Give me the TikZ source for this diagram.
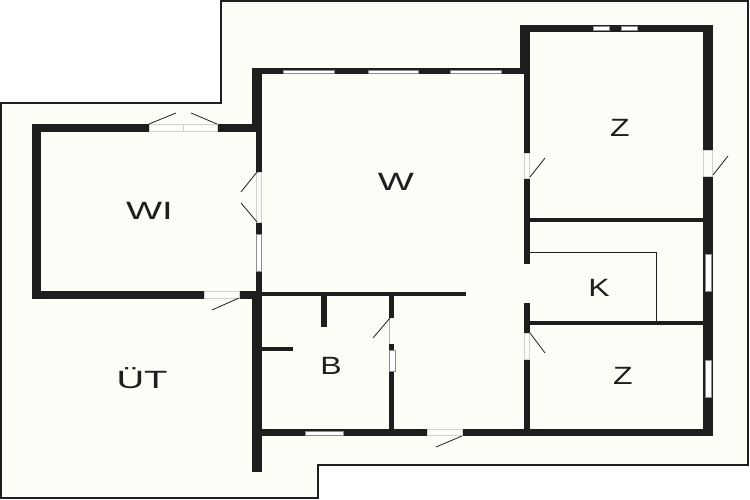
\documentclass[tikz,border=0pt]{standalone}
\usepackage{fontspec}
\newfontfamily\planfont[FakeStretch=1.28]{Liberation Sans}
\newfontfamily\planwidefont[FakeStretch=1.53]{Liberation Sans}
\definecolor{plotfill}{HTML}{FDFDF8}
\definecolor{wallblack}{HTML}{1E1E1E}
\tikzset{
	wall/.style={fill=wallblack, draw=none},
	pane/.style={fill=white, draw=black!45, line width=0.4pt},
	gap/.style={fill=plotfill, draw=black!18, line width=0.5pt},
	leaf/.style={draw=wallblack, line width=0.8pt},
	roomname/.style={font=\planfont\fontsize{25}{25}\selectfont, text=wallblack, inner sep=0pt},
	widename/.style={roomname, font=\planwidefont\fontsize{25}{25}\selectfont}
}

\begin{document}
\begin{tikzpicture}[x=1pt, y=-1pt]
		%%%%% START %%%%%
		\useasboundingbox (0, 0) rectangle (750, 500);
		\fill[white] (0, 0) rectangle (750, 500);
		
		% plot outline
		\draw[fill=plotfill, draw=wallblack, line width=2pt] (1, 103) -- (221, 103) -- (221, 1) -- (748, 1) -- (748, 465) -- (318, 465) -- (318, 498) -- (1, 498) -- cycle;
		
		% WI
		\fill[wall] (32, 124) rectangle (41, 299);
		\fill[wall] (32, 124) rectangle (149, 132);
		\fill[wall] (217, 124) rectangle (262, 132);
		\fill[wall] (32, 291) rectangle (204, 299);
		\fill[wall] (239, 291) rectangle (262, 299);
		\draw[gap] (149, 124.5) rectangle (217, 131.5);
		\draw[gap] (183, 124.5) -- (183, 131.5);
		\draw[gap] (204, 291.5) rectangle (239, 298.5);
		\draw[leaf] (149, 124) -- (176, 113);
		\draw[leaf] (217, 124) -- (191, 113);
		\draw[leaf] (239, 298) -- (212, 310);
		
		% wall between WI and W
		\fill[wall] (252, 68) rectangle (262, 132);
		\fill[wall] (256, 132) rectangle (262, 172);
		\fill[wall] (256, 222) rectangle (262, 234);
		\fill[wall] (256, 271) rectangle (262, 292);
		\fill[wall] (252, 296) rectangle (262, 472);
		\draw[gap] (256.5, 172) rectangle (261.5, 222);
		\draw[pane] (256.5, 234) rectangle (261.5, 271);
		\draw[leaf] (257, 172) -- (241, 192);
		\draw[leaf] (257, 222) -- (241, 203);
		
		% W, top wall
		\fill[wall] (252, 68) rectangle (530, 74.5);
		\draw[pane] (283, 70) rectangle (334, 73);
		\draw[pane] (368, 70) rectangle (418, 73);
		\draw[pane] (450, 70) rectangle (501, 73);
		
		% B
		\fill[wall] (256, 292) rectangle (466, 296);
		\fill[wall] (321, 296) rectangle (327, 327);
		\fill[wall] (262, 347) rectangle (293, 351);
		\fill[wall] (389, 296) rectangle (394, 318);
		\fill[wall] (389, 344) rectangle (394, 350);
		\fill[wall] (389, 371) rectangle (394, 430);
		\draw[black!30, line width=0.5pt] (389, 318) -- (389, 344);
		\draw[pane] (389, 350) rectangle (395, 371);
		\draw[leaf] (390, 318) -- (373, 338);
		
		% bottom wall
		\fill[wall] (262, 429) rectangle (427, 436);
		\fill[wall] (462, 429) rectangle (713, 436);
		\draw[pane] (305, 431) rectangle (343, 435);
		\draw[gap] (427, 429.5) rectangle (462, 435.5);
		\draw[leaf] (462, 436) -- (436, 447);
		
		% wall between W and the rooms on the right
		\fill[wall] (520, 25) rectangle (530, 74.5);
		\fill[wall] (524, 74) rectangle (530, 153);
		\fill[wall] (524, 178) rectangle (530, 264);
		\fill[wall] (524, 303) rectangle (530, 333);
		\fill[wall] (524, 359) rectangle (530, 436);
		\draw[gap] (524.5, 153) rectangle (529.5, 178);
		\draw[gap] (524.5, 333) rectangle (529.5, 359);
		\draw[leaf] (530, 177) -- (545, 158);
		\draw[leaf] (530, 333) -- (545, 353);
		
		% top and right wall
		\fill[wall] (520, 25) rectangle (713, 32);
		\draw[pane] (593, 26) rectangle (609, 30.5);
		\draw[pane] (621, 26) rectangle (637, 30.5);
		\fill[wall] (703, 25) rectangle (713, 150);
		\fill[wall] (703, 176) rectangle (713, 436);
		\draw[gap] (703.5, 150) rectangle (712.5, 176);
		\draw[pane] (705, 254) rectangle (711, 291);
		\draw[pane] (705, 360) rectangle (711, 397);
		\draw[leaf] (713, 175) -- (728, 156);
		
		% K
		\fill[wall] (530, 218) rectangle (703, 222);
		\fill[wall] (530, 321) rectangle (703, 325);
		\draw[wallblack, line width=0.7pt] (530, 252.5) -- (656, 252.5) -- (656, 321);
		
		\node[widename] (wi) at (149.5, 211) {WI};
		\node[widename] (w) at (396, 182) {W};
		\node[roomname] (ztop) at (620, 127.5) {Z};
		\node[roomname] (k) at (599, 288) {K};
		\node[roomname] (zbottom) at (623, 375.5) {Z};
		\node[roomname] (b) at (331, 365.5) {B};
		\node[widename, anchor=base] (ut) at (142, 388) {ÜT};
		
		%%%%% END %%%%%
	\end{tikzpicture}
\end{document}
